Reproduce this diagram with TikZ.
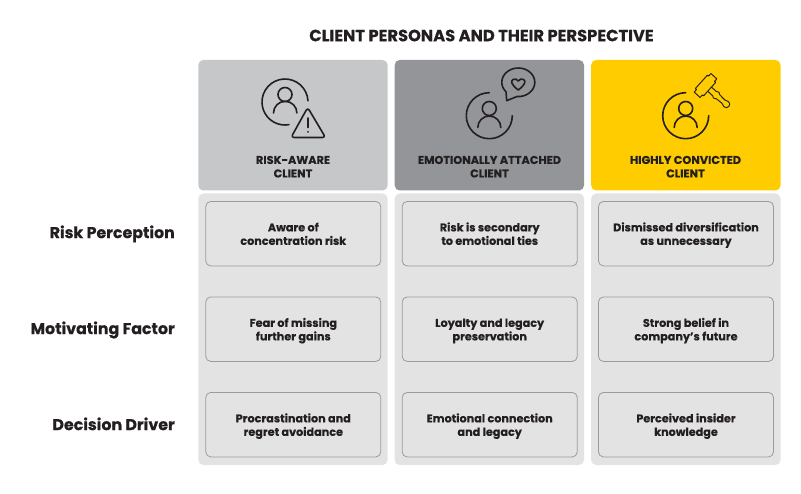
\documentclass[tikz,border=0pt]{standalone}
\usepackage{fontspec}
\setmainfont{Poppins}[BoldFeatures={FakeBold=0.35}]
\definecolor{ink}{HTML}{231F20}
\definecolor{hA}{HTML}{C6C7C9}
\definecolor{hB}{HTML}{939598}
\definecolor{hC}{HTML}{FFCC00}
\definecolor{bodyg}{HTML}{E3E3E3}
\definecolor{edgeg}{HTML}{9A9B9D}
\newcommand\twol[2]{\rule{0pt}{12.9pt}\strut #1\\\strut #2}
\newcommand\twoh[2]{\strut #1\\\strut #2}
\tikzset{
 panel/.style={rounded corners=5pt,draw=none},
 cardbox/.style={draw=edgeg,line width=0.8pt,fill=bodyg,rounded corners=5pt,minimum width=175pt,minimum height=64.5pt,inner sep=0pt,align=center,text=ink,font=\fontsize{11.2}{13.5}\selectfont\bfseries},
 headtxt/.style={text=ink,align=center,inner sep=0pt,font=\fontsize{11.3}{13.5}\selectfont\bfseries},
 rowtxt/.style={text=ink,anchor=east,inner sep=0pt,font=\fontsize{15.8}{18}\selectfont\bfseries},
 ic/.style={draw=ink,line width=1.6pt,line cap=round,line join=round}
}
\begin{document}
\begin{tikzpicture}[x=1pt,y=-1pt]
\useasboundingbox (0,0) rectangle (801,494);
\node[text=ink,inner sep=0pt,font=\fontsize{16.3}{18}\selectfont\bfseries] (title) at (481.5,35.5) {CLIENT PERSONAS AND THEIR PERSPECTIVE};
% panels
\foreach \x/\c in {198.3/hA,394.7/hB,591.2/hC}{
 \fill[panel,fill=\c] (\x,60) rectangle ++(189.3,130.5);
 \fill[panel,fill=bodyg] (\x,193.5) rectangle ++(189.3,271.5);
}
\node[headtxt] (h1) at (293,168) {\twoh{RISK-AWARE}{CLIENT}};
\node[headtxt] (h2) at (489.5,168) {\twoh{EMOTIONALLY ATTACHED}{CLIENT}};
\node[headtxt] (h3) at (685.5,168) {\twoh{HIGHLY CONVICTED}{CLIENT}};
% rows
\node[rowtxt] (r1) at (175,234.5) {\strut Risk Perception};
\node[rowtxt] (r2) at (175,330.5) {\strut Motivating Factor};
\node[rowtxt] (r3) at (175,426.5) {\strut Decision Driver};
% cards
\node[cardbox] (c11) at (293.3,233.7) {\twol{Aware of}{concentration risk}};
\node[cardbox] (c12) at (489.7,233.7) {\twol{Risk is secondary}{to emotional ties}};
\node[cardbox] (c13) at (686,233.7) {\twol{Dismissed diversification}{as unnecessary}};
\node[cardbox] (c21) at (293.3,329.2) {\twol{Fear of missing}{further gains}};
\node[cardbox] (c22) at (489.7,329.2) {\twol{Loyalty and legacy}{preservation}};
\node[cardbox] (c23) at (686,329.2) {\twol{Strong belief in}{company’s future}};
\node[cardbox] (c31) at (293.3,424.7) {\twol{Procrastination and}{regret avoidance}};
\node[cardbox] (c32) at (489.7,424.7) {\twol{Emotional connection}{and legacy}};
\node[cardbox] (c33) at (686,424.7) {\twol{Perceived insider}{knowledge}};
% icon 1
\begin{scope}[ic]
\draw (285,102) ++(-3:23) arc[start angle=-3,end angle=-280,radius=23];
\draw (285,94.5) circle[radius=7];
\draw (273.5,113) arc[start angle=180,end angle=360,radius=11.7];
\draw[rounded corners=3pt] (307.7,107.5) -- (325.5,137.5) -- (291,137.5) -- cycle;
\draw (307.7,118) -- (307.7,127.5);
\draw (307.7,131.8) -- (307.7,132);
\end{scope}
% icon 2
\begin{scope}[ic]
\draw (489.3,115.7) ++(0:23) arc[start angle=0,end angle=270,radius=23];
\draw (489.3,108.5) circle[radius=7];
\draw (477.8,127.5) arc[start angle=180,end angle=360,radius=11.5];
\draw (506.7,100.7) -- (506.04,91.87) arc[start angle=138,end angle=455,x radius=16.5,y radius=14.3] -- cycle;
\draw (518.3,90) .. controls (511,84.5) and (510.5,81) .. (513,79.5) .. controls (515,78.5) and (517,79) .. (518.3,81) .. controls (519.6,79) and (521.6,78.5) .. (523.6,79.5) .. controls (526,81) and (525.6,84.5) .. (518.3,90) -- cycle;
\end{scope}
% icon 3
\begin{scope}[ic]
\draw (685.7,115.7) ++(0:23) arc[start angle=0,end angle=270,radius=23];
\draw (685.7,108.5) circle[radius=7];
\draw (674.2,127.5) arc[start angle=180,end angle=360,radius=11.5];
\end{scope}
\begin{scope}[draw=ink,line width=0.95pt,line join=round,shift={(705.5,85.5)},rotate=-42]
\draw (-4,-12.5) -- (4,-12.5) -- (4,-9) -- (5.5,-9) -- (5.5,9) -- (4,9) -- (4,12.5) -- (-4,12.5) -- (-4,9) -- (-5.5,9) -- (-5.5,-9) -- (-4,-9) -- cycle;
\end{scope}
\begin{scope}[draw=ink,line width=0.95pt,line join=round,shift={(705.5,85.5)},rotate=48]
\draw (-2.8,5.5) -- (-2.8,12) -- (-4,14.5) -- (-2.6,17) -- (-2.2,24) -- (-3.4,28) arc[start angle=180,end angle=0,radius=3.4] -- (2.2,24) -- (2.6,17) -- (4,14.5) -- (2.8,12) -- (2.8,5.5);
\end{scope}
\end{tikzpicture}
\end{document}
